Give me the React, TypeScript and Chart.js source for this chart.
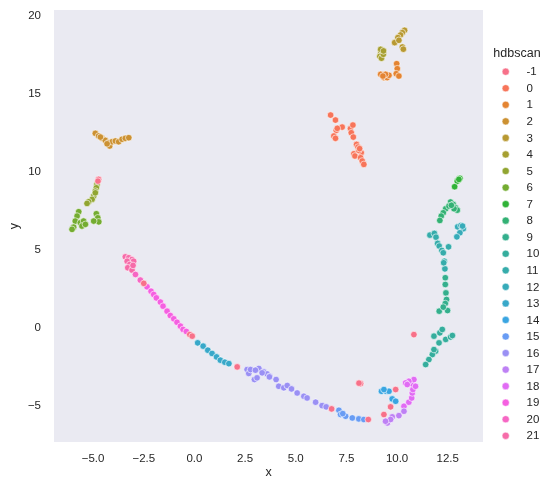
import React, { useEffect, useRef } from 'react';
import { Chart, registerables } from 'chart.js';

Chart.register(...registerables);

// ---------------- data ----------------
const CATEGORIES = ['-1', '0', '1', '2', '3', '4', '5', '6', '7', '8', '9', '10', '11', '12', '13', '14', '15', '16', '17', '18', '19', '20', '21'];
const X_TICKS = [-5, -2.5, 0, 2.5, 5, 7.5, 10, 12.5];
const Y_TICKS = [-5, 0, 5, 10, 15, 20];
const X_MIN = -6.93, X_MAX = 14.24;
const Y_MIN = -7.29, Y_MAX = 20.38;

type P = [number, number];

const PTS_NOISE: P[] = [
  [-4.73, 9.53], [-4.76, 9.42], [-2.5, 2.87], [-0.23, -0.41], [-0.11, -0.51], [2.11, -2.48],
  [6.77, -5.17], [8.58, -5.85], [8.2, -3.55], [8.12, -3.52], [9.93, -3.93], [9.68, -5.04],
  [9.35, -5.53], [10.83, -0.41],
];
const PTS_0: P[] = [
  [6.72, 13.65], [6.96, 13.33], [7.29, 12.88], [7.0, 12.67], [6.88, 12.31], [6.96, 12.16],
  [7.7, 12.78], [7.82, 13.01], [7.74, 12.52], [7.84, 12.24], [8.0, 11.77], [8.07, 11.6],
  [7.87, 11.17], [7.92, 11.03], [8.23, 11.24], [8.2, 10.92], [8.28, 10.71], [8.36, 10.49],
  [8.11, 11.39], [7.05, 12.8], [8.15, 11.5],
];
const PTS_1: P[] = [
  [9.19, 16.26], [9.35, 16.05], [9.51, 16.05], [9.6, 16.2], [9.43, 16.26], [9.98, 16.94],
  [10.01, 16.62], [9.96, 16.3], [10.09, 16.15], [9.3, 16.15],
];
const PTS_2: P[] = [
  [-4.89, 12.48], [-4.73, 12.31], [-4.56, 12.16], [-4.4, 12.03], [-4.23, 11.88], [-4.18, 11.67],
  [-4.06, 11.94], [-3.9, 11.99], [-3.74, 11.94], [-3.57, 12.1], [-3.41, 12.16], [-3.24, 12.2],
  [-4.31, 11.81], [-4.64, 12.24],
];
const PTS_3: P[] = [
  [10.37, 19.08], [10.26, 18.93], [10.17, 18.78], [10.04, 18.61], [9.88, 18.29], [10.09, 18.44],
  [10.26, 18.01], [10.31, 17.87],
];
const PTS_4: P[] = [
  [9.19, 17.69], [9.28, 17.58], [9.15, 17.41], [9.23, 17.29], [9.32, 17.54], [9.19, 17.86], [9.33, 17.76],
];
const PTS_5: P[] = [
  [-4.81, 9.21], [-4.84, 8.99], [-4.89, 8.78], [-4.97, 8.46], [-5.05, 8.25], [-5.22, 8.1],
  [-5.3, 7.99], [-4.89, 8.67],
];
const PTS_6: P[] = [
  [-5.71, 7.46], [-5.79, 7.18], [-5.88, 6.86], [-5.96, 6.47], [-5.63, 6.75], [-5.47, 6.86],
  [-5.55, 6.54], [-5.38, 6.65], [-4.84, 7.33], [-4.77, 7.07], [-4.72, 6.81], [-4.97, 6.86],
  [-6.04, 6.33],
];
const PTS_7: P[] = [[13.1, 9.6], [12.97, 9.42], [12.84, 9.06], [13.05, 9.53]];
const PTS_8: P[] = [
  [12.64, 8.08], [12.77, 7.93], [12.89, 7.71], [12.97, 7.56], [12.81, 7.65], [12.4, 7.65],
  [12.28, 7.39], [12.18, 7.18], [12.11, 6.9], [12.56, 7.82], [12.68, 7.87],
];
const PTS_9: P[] = [
  [12.38, 3.23], [12.38, 2.8], [12.41, 2.26], [12.44, 1.84], [12.38, 1.58], [12.08, 1.09],
  [12.49, 1.13], [12.28, 1.35],
];
const PTS_10: P[] = [
  [11.82, -0.51], [12.11, -0.3], [12.23, -0.08], [12.4, -0.72], [12.64, -0.56], [12.73, -0.47],
  [12.07, -0.94], [11.9, -1.47], [11.74, -1.69], [11.57, -2.01], [11.41, -2.33], [11.82, -1.37],
];
const PTS_11: P[] = [
  [11.62, 5.96], [11.84, 6.07], [11.92, 5.83], [12.0, 5.43], [12.08, 5.26], [12.21, 4.98],
  [12.28, 4.83], [12.33, 4.29], [12.36, 3.8], [12.3, 4.19], [12.54, 5.21],
];
const PTS_12: P[] = [
  [12.99, 6.49], [13.15, 6.58], [13.27, 6.37], [13.1, 6.11], [12.95, 5.85], [13.23, 6.54],
];
const PTS_13: P[] = [
  [0.16, -0.94], [0.43, -1.15], [0.66, -1.41], [0.87, -1.62], [1.09, -1.84], [1.28, -2.05],
  [1.5, -2.18], [1.7, -2.27],
];
const PTS_14: P[] = [
  [9.23, -4.04], [9.46, -4.04], [9.6, -4.04], [9.76, -4.53], [9.93, -4.68], [9.35, -3.93],
];
const PTS_15: P[] = [
  [7.13, -5.26], [7.21, -5.53], [7.46, -5.64], [7.79, -5.75], [8.11, -5.81], [8.36, -5.85], [7.32, -5.47],
];
const PTS_16: P[] = [
  [2.6, -2.65], [2.68, -2.9], [2.96, -3.29], [3.18, -2.58], [3.42, -2.8], [3.59, -2.93],
  [3.72, -3.08], [3.34, -2.86], [3.09, -3.18], [3.7, -3.12], [4.03, -3.29], [4.16, -3.72],
  [4.41, -3.82], [4.58, -3.67], [4.79, -3.89], [5.07, -4.15], [5.4, -4.36], [5.56, -4.47],
  [5.98, -4.74], [6.3, -4.96], [6.5, -5.04], [2.77, -2.65], [3.01, -2.69],
];
const PTS_17: P[] = [
  [9.52, -6.07], [9.76, -5.68], [10.09, -5.6], [10.34, -5.32], [9.68, -5.85], [9.43, -5.96],
];
const PTS_18: P[] = [
  [10.34, -5.0], [10.58, -4.74], [10.72, -4.47], [10.75, -4.15], [10.78, -3.93], [10.72, -3.55],
  [10.83, -3.29], [10.58, -3.4], [10.42, -3.51], [10.91, -3.72], [10.5, -3.61],
];
const PTS_19: P[] = [
  [-2.34, 2.65], [-2.14, 2.37], [-2.01, 2.16], [-1.88, 1.94], [-1.68, 1.67], [-1.55, 1.41],
  [-1.35, 1.09], [-1.19, 0.81], [-1.02, 0.6], [-0.86, 0.38], [-0.69, 0.13], [-0.56, -0.08],
  [-0.4, -0.21],
];
const PTS_20: P[] = [[-2.67, 3.08], [-2.91, 3.44]];
const PTS_21: P[] = [
  [-3.41, 4.57], [-3.24, 4.51], [-3.08, 4.4], [-3.0, 4.29], [-3.32, 4.29], [-3.19, 4.08],
  [-3.29, 3.87], [-3.08, 3.72], [-3.03, 4.02],
];

const CLUSTER_POINTS: P[][] = [
  PTS_NOISE, PTS_0, PTS_1, PTS_2, PTS_3, PTS_4, PTS_5, PTS_6, PTS_7, PTS_8, PTS_9, PTS_10,
  PTS_11, PTS_12, PTS_13, PTS_14, PTS_15, PTS_16, PTS_17, PTS_18, PTS_19, PTS_20, PTS_21,
];

// ---------------- husl palette (seaborn) ----------------
const HM = [
  [3.2406, -1.5372, -0.4986],
  [-0.9689, 1.8758, 0.0415],
  [0.0557, -0.204, 1.057],
];
function maxChroma(L: number, H: number) {
  const hrad = (H / 180) * Math.PI;
  const sinH = Math.sin(hrad), cosH = Math.cos(hrad);
  const sub1 = Math.pow(L + 16, 3) / 1560896.0;
  const sub2 = sub1 > 0.008856 ? sub1 : L / 903.3;
  let result = Infinity;
  for (const row of HM) {
    const [m1, m2, m3] = row;
    const top = (0.99915 * m1 + 1.05122 * m2 + 1.1446 * m3) * sub2;
    const rbottom = 0.8633 * m3 - 0.17266 * m2;
    const lbottom = 0.12949 * m3 - 0.38848 * m1;
    const bottom = (rbottom * sinH + lbottom * cosH) * sub2;
    for (const t of [0, 1]) {
      const C = (L * (top - 1.05122 * t)) / (bottom + 0.17266 * sinH * t);
      if (C > 0 && C < result) result = C;
    }
  }
  return result;
}
function huslToRgb(H: number, S: number, L: number): string {
  const C = (maxChroma(L, H) / 100) * S;
  const hr = (H / 180) * Math.PI;
  const U = Math.cos(hr) * C, V = Math.sin(hr) * C;
  const t = (L + 16) / 116;
  const varY = Math.pow(t, 3) > 0.008856 ? Math.pow(t, 3) : (116 * t - 16) / 903.3;
  const varU = U / (13 * L) + 0.19784;
  const varV = V / (13 * L) + 0.46834;
  const Y = varY;
  const X = 0 - (9 * Y * varU) / ((varU - 4) * varV - varU * varV);
  const Z = (9 * Y - 15 * varV * Y - varV * X) / (3 * varV);
  const rgb = HM.map((r) => r[0] * X + r[1] * Y + r[2] * Z).map((c) =>
    c <= 0.0031308 ? 12.92 * c : 1.055 * Math.pow(c, 1 / 2.4) - 0.055
  );
  const [r, g, b] = rgb.map((c) => Math.round(Math.min(1, Math.max(0, c)) * 255));
  return `rgb(${r},${g},${b})`;
}
function huslPalette(n: number): string[] {
  const out: string[] = [];
  for (let i = 0; i < n; i++) {
    const h = ((i / n + 0.01) % 1) * 359;
    out.push(huslToRgb(h, 0.9 * 99, 0.65 * 99));
  }
  return out;
}

// ---------------- chart ----------------
const FONT = '"Liberation Sans", Arial, sans-serif';
const TEXT = '#262626';

const bgPlugin = {
  id: 'axesBg',
  beforeDraw(chart: any) {
    const { ctx, chartArea: a } = chart;
    ctx.save();
    ctx.fillStyle = '#EAEAF2';
    ctx.fillRect(a.left, a.top, a.right - a.left, a.bottom - a.top);
    ctx.restore();
  },
};

const legendPlugin = {
  id: 'sideLegend',
  afterDraw(chart: any) {
    const { ctx } = chart;
    ctx.save();
    ctx.fillStyle = TEXT;
    ctx.font = `12.5px ${FONT}`;
    ctx.textAlign = 'center';
    ctx.textBaseline = 'middle';
    ctx.fillText('hdbscan', 517, 53.5);
    ctx.font = `11.5px ${FONT}`;
    ctx.textAlign = 'left';
    chart.data.datasets.forEach((ds: any, i: number) => {
      const y = 71.7 + i * 16.55;
      ctx.beginPath();
      ctx.arc(505.7, y, 3.6, 0, Math.PI * 2);
      ctx.fillStyle = ds.backgroundColor;
      ctx.fill();
      ctx.lineWidth = 0.5;
      ctx.strokeStyle = '#ffffff';
      ctx.stroke();
      ctx.fillStyle = TEXT;
      ctx.fillText(ds.label, 526.5, y + 0.5);
    });
    ctx.restore();
  },
};

const fmtX = (v: number) => {
  const s = Math.abs(v).toFixed(1);
  return v < 0 ? '\u2212' + s : s;
};
const fmtY = (v: number) => {
  const s = String(Math.abs(v));
  return v < 0 ? '\u2212' + s : s;
};

export default function App() {
  const ref = useRef<HTMLCanvasElement | null>(null);
  useEffect(() => {
    if (!ref.current) return;
    const colors = huslPalette(CATEGORIES.length);
    const datasets = CATEGORIES.map((label, i) => ({
      label,
      data: CLUSTER_POINTS[i].map(([x, y]) => ({ x, y })),
      backgroundColor: colors[i],
      borderColor: '#ffffff',
      borderWidth: 0.6,
      pointRadius: 3.3,
      pointHoverRadius: 3.3,
    }));
    const chart = new Chart(ref.current, {
      type: 'scatter',
      data: { datasets },
      options: {
        animation: false,
        responsive: false,
        devicePixelRatio: window.devicePixelRatio || 1,
        layout: { padding: { top: 10, right: 69, left: 0, bottom: 0 } },
        plugins: { legend: { display: false }, tooltip: { enabled: false } },
        scales: {
          x: {
            type: 'linear',
            min: X_MIN,
            max: X_MAX,
            grid: { display: false, drawTicks: false },
            border: { display: false },
            afterBuildTicks: (s: any) => {
              s.ticks = X_TICKS.map((v) => ({ value: v }));
            },
            afterFit: (s: any) => {
              s.height = 49;
              s.paddingLeft = 0;
              s.paddingRight = 0;
            },
            ticks: {
              padding: 10,
              color: TEXT,
              font: { family: FONT, size: 11.5 },
              maxRotation: 0,
              autoSkip: false,
              callback: (v: any) => fmtX(Number(v)),
            },
            title: {
              display: true,
              text: 'x',
              color: TEXT,
              font: { family: FONT, size: 12.5 },
              padding: { top: 0, bottom: 10.5 },
            },
          },
          y: {
            type: 'linear',
            min: Y_MIN,
            max: Y_MAX,
            grid: { display: false, drawTicks: false },
            border: { display: false },
            afterBuildTicks: (s: any) => {
              s.ticks = Y_TICKS.map((v) => ({ value: v }));
            },
            afterFit: (s: any) => {
              s.width = 54;
              s.paddingTop = 0;
              s.paddingBottom = 0;
            },
            ticks: {
              padding: 13,
              color: TEXT,
              font: { family: FONT, size: 11.5 },
              autoSkip: false,
              callback: (v: any) => fmtY(Number(v)),
            },
            title: {
              display: true,
              text: 'y',
              color: TEXT,
              font: { family: FONT, size: 12.5 },
              padding: { top: 7.5, bottom: 0 },
            },
          },
        },
      },
      plugins: [bgPlugin, legendPlugin],
    });
    return () => chart.destroy();
  }, []);
  return (
    <div style={{ position: 'absolute', left: 0, top: 0, width: 552, height: 491, background: '#ffffff' }}>
      <canvas ref={ref} width={552} height={491} style={{ display: 'block', width: 552, height: 491 }} />
    </div>
  );
}
